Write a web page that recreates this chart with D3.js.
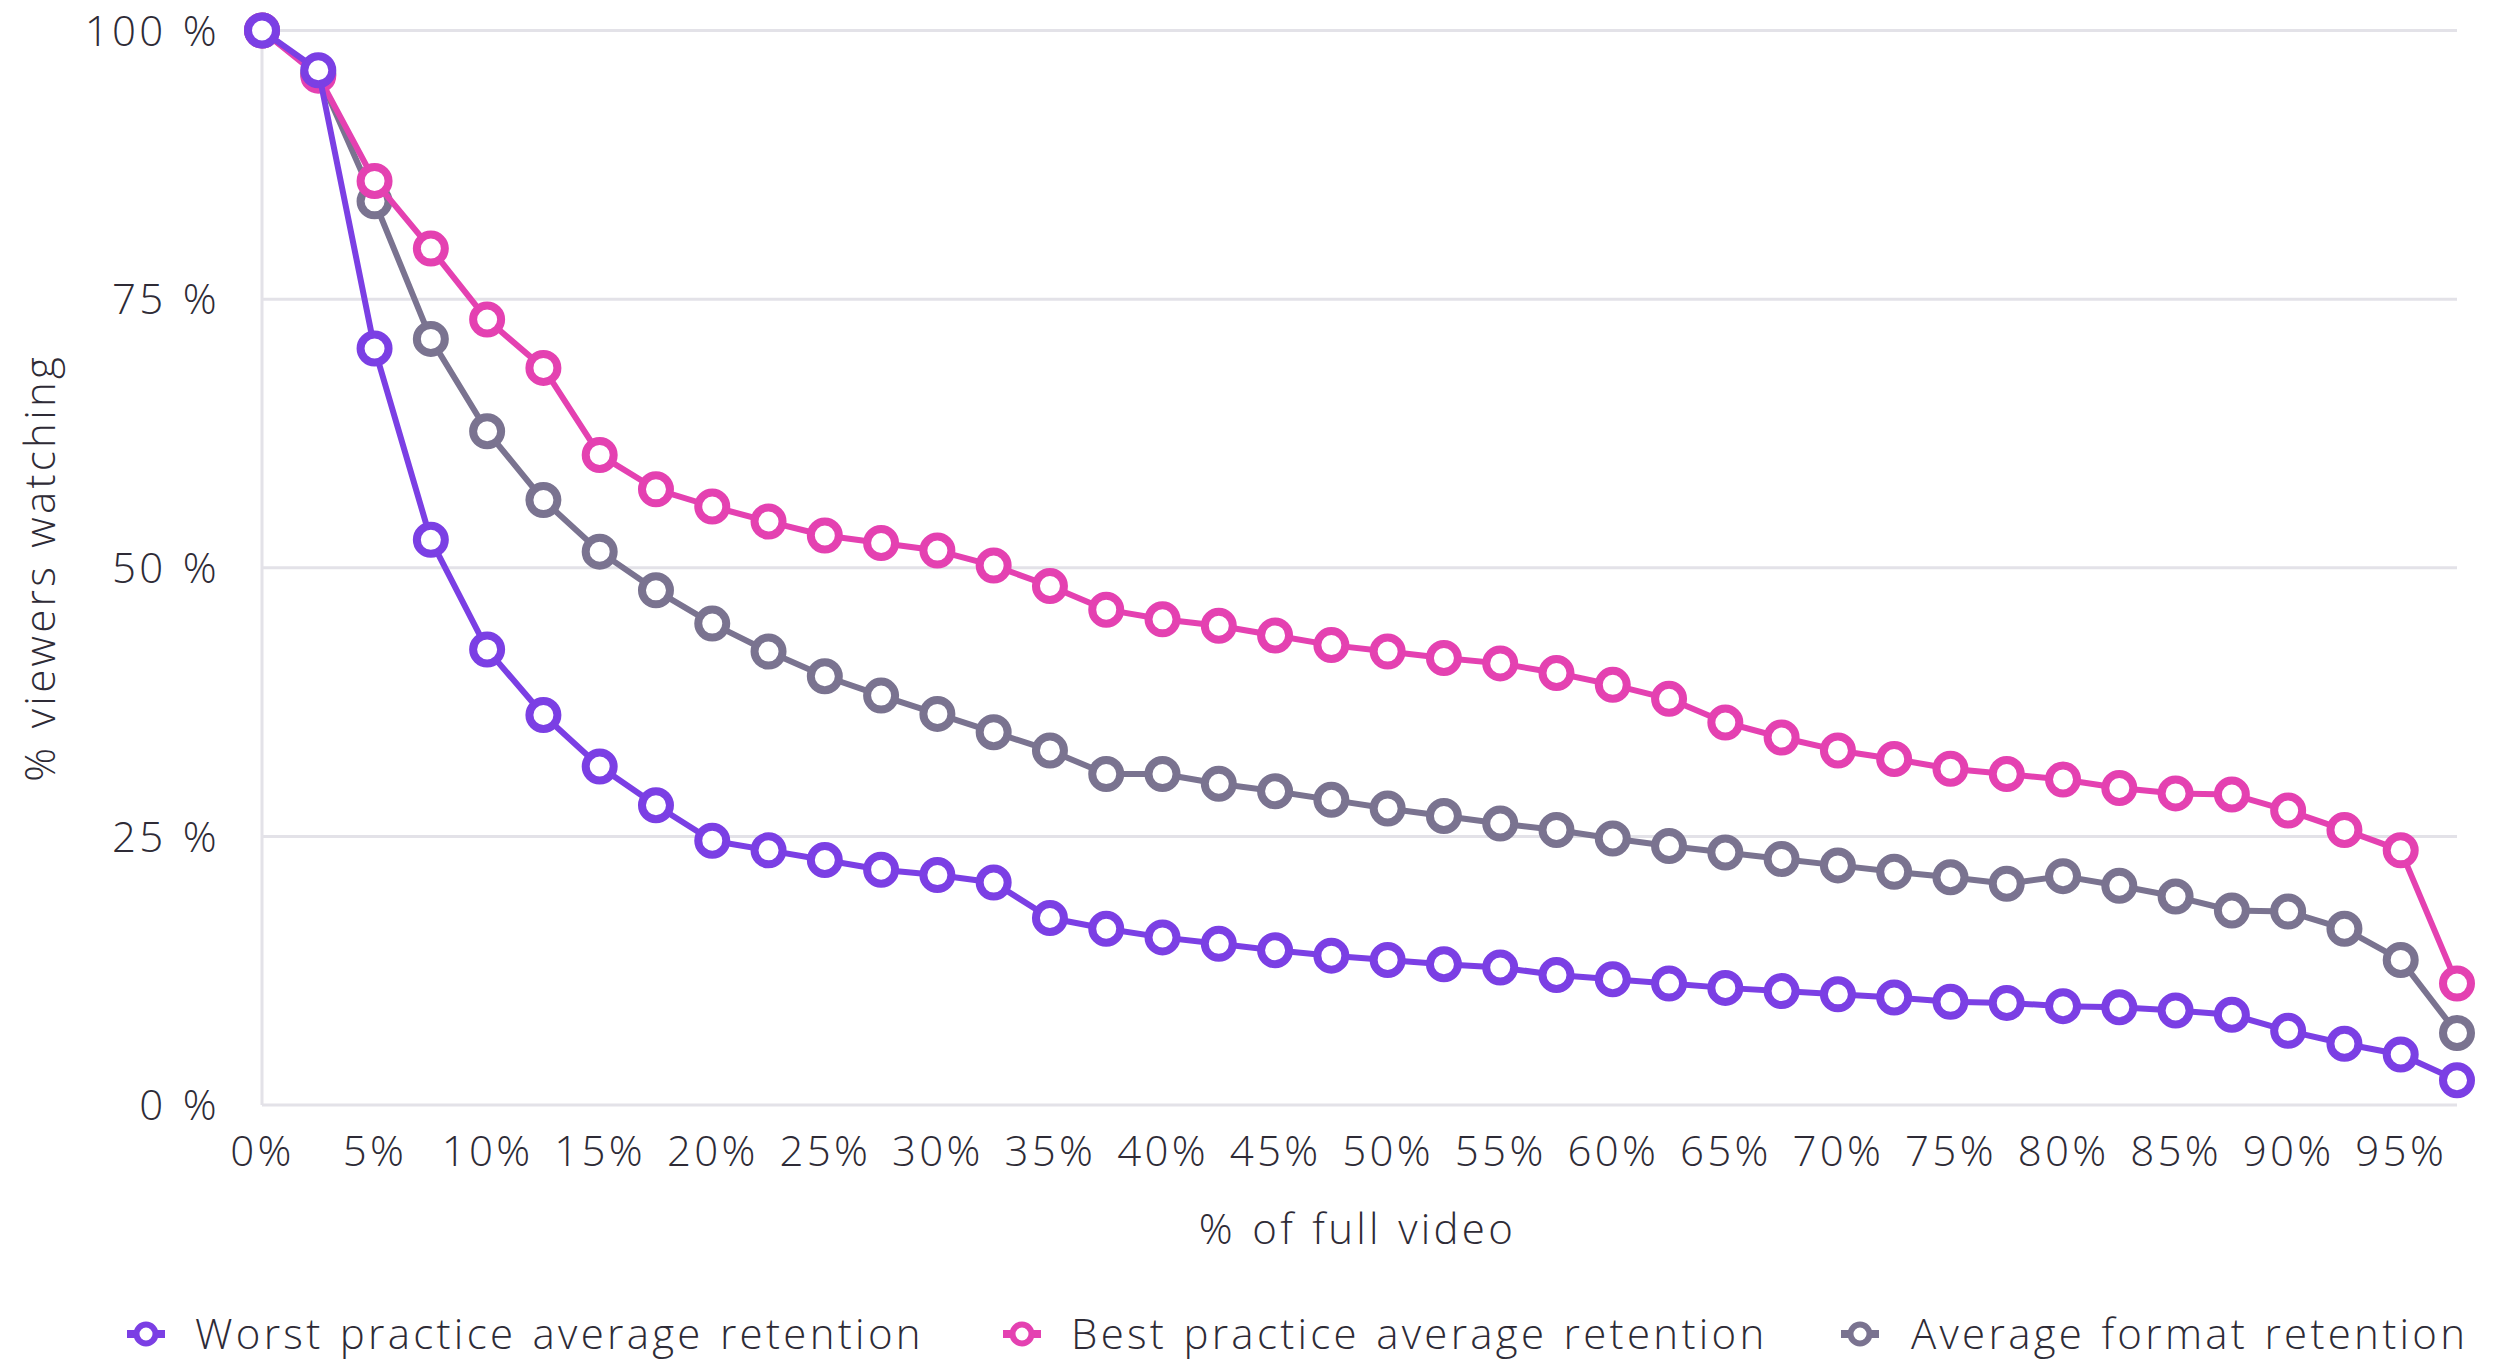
<!DOCTYPE html>
<html>
<head>
<meta charset="utf-8">
<script src="https://cdn.jsdelivr.net/npm/d3@7"></script>
<style>
  html, body { margin: 0; padding: 0; background: #ffffff; }
  svg { display: block; }
  text { font-family: "Open Sans", "Noto Sans", sans-serif; font-weight: 300; fill: #2e2b36; letter-spacing: 3.3px; word-spacing: 2px; }
</style>
</head>
<body>
<svg id="chart" width="2502" height="1362"></svg>
<script>
// Share of the video that has played (%)
const progress = [0, 2.5, 5, 7.5, 10, 12.5, 15, 17.5, 20, 22.5, 25, 27.5, 30, 32.5, 35, 37.5, 40, 42.5, 45, 47.5,
                  50, 52.5, 55, 57.5, 60, 62.5, 65, 67.5, 70, 72.5, 75, 77.5, 80, 82.5, 85, 87.5, 90, 92.5, 95, 97.5];

// % of viewers still watching at each point
const worstPractice = [100, 96.3, 70.4, 52.6, 42.4, 36.3, 31.5, 27.9, 24.6, 23.7, 22.8, 21.9, 21.4, 20.7, 17.4, 16.4, 15.6, 15.0, 14.4, 13.9,
                       13.5, 13.1, 12.8, 12.1, 11.7, 11.3, 10.9, 10.6, 10.3, 10.0, 9.6, 9.5, 9.2, 9.1, 8.8, 8.4, 6.9, 5.7, 4.7, 2.3];
const bestPractice = [100, 95.8, 86.0, 79.7, 73.1, 68.6, 60.5, 57.3, 55.7, 54.3, 53.0, 52.3, 51.6, 50.2, 48.3, 46.1, 45.2, 44.6, 43.7, 42.8,
                      42.2, 41.6, 41.1, 40.2, 39.1, 37.8, 35.6, 34.2, 33.0, 32.2, 31.3, 30.8, 30.3, 29.5, 29.0, 28.9, 27.4, 25.6, 23.7, 11.3];
const averageFormat = [100, 96.0, 84.1, 71.3, 62.7, 56.3, 51.5, 47.9, 44.8, 42.2, 39.9, 38.1, 36.4, 34.7, 33.0, 30.8, 30.8, 29.9, 29.2, 28.4,
                       27.6, 26.9, 26.2, 25.6, 24.8, 24.1, 23.5, 22.9, 22.3, 21.7, 21.2, 20.6, 21.3, 20.4, 19.4, 18.1, 18.0, 16.4, 13.5, 6.7];

const seriesNames = ["Worst practice average retention", "Best practice average retention", "Average format retention"];
const xTickValues = [0, 5, 10, 15, 20, 25, 30, 35, 40, 45, 50, 55, 60, 65, 70, 75, 80, 85, 90, 95];
const xTickLabels = ["0%", "5%", "10%", "15%", "20%", "25%", "30%", "35%", "40%", "45%",
                     "50%", "55%", "60%", "65%", "70%", "75%", "80%", "85%", "90%", "95%"];
const yTickValues = [0, 25, 50, 75, 100];
const yTickLabels = ["0 %", "25 %", "50 %", "75 %", "100 %"];

const colors = { worst: "#7b3fe4", best: "#e441b1", average: "#7a7390" };
const fontSize = 42;

const svg = d3.select("#chart");
const plot = { left: 262, right: 2457, top: 30.5, bottom: 1105 };

const x = d3.scaleLinear().domain([0, 97.5]).range([plot.left, plot.right]);
const y = d3.scaleLinear().domain([0, 100]).range([plot.bottom, plot.top]);

// horizontal gridlines
svg.append("g")
  .selectAll("line")
  .data(yTickValues)
  .join("line")
  .attr("x1", plot.left).attr("x2", plot.right)
  .attr("y1", d => y(d)).attr("y2", d => y(d))
  .attr("stroke", "#e3e2e8").attr("stroke-width", 3);

// left axis line
svg.append("line")
  .attr("x1", plot.left).attr("x2", plot.left)
  .attr("y1", plot.top).attr("y2", plot.bottom)
  .attr("stroke", "#e3e2e8").attr("stroke-width", 3);

// y axis labels
const yAxis = d3.axisLeft(y)
  .tickValues(yTickValues)
  .tickFormat((d, i) => yTickLabels[i])
  .tickSize(0)
  .tickPadding(42);
const gy = svg.append("g").attr("transform", `translate(${plot.left},0)`).call(yAxis);
gy.select(".domain").remove();
gy.selectAll("text").attr("font-size", fontSize).attr("dy", "0.35em").style("font-family", null).attr("fill", null);

// x axis labels
const xAxis = d3.axisBottom(x)
  .tickValues(xTickValues)
  .tickFormat((d, i) => xTickLabels[i])
  .tickSize(0)
  .tickPadding(31);
const gx = svg.append("g").attr("transform", `translate(0,${plot.bottom})`).call(xAxis);
gx.select(".domain").remove();
gx.selectAll("text").attr("font-size", fontSize).style("font-family", null).attr("fill", null);

// axis titles
svg.append("text")
  .attr("x", (plot.left + plot.right) / 2 - 2)
  .attr("y", 1229)
  .attr("dy", "0.35em")
  .attr("text-anchor", "middle")
  .attr("font-size", fontSize)
  .text("% of full video");

svg.append("text")
  .attr("transform", `translate(40,${(plot.top + plot.bottom) / 2}) rotate(-90)`)
  .attr("dy", "0.35em")
  .attr("text-anchor", "middle")
  .attr("font-size", fontSize)
  .text("% viewers watching");

// series, drawn back to front
const series = [
  { key: "average", values: averageFormat },
  { key: "best", values: bestPractice },
  { key: "worst", values: worstPractice }
];

const line = d3.line()
  .x((d, i) => x(progress[i]))
  .y(d => y(d));

series.forEach(s => {
  const g = svg.append("g");
  g.append("path")
    .datum(s.values)
    .attr("d", line)
    .attr("fill", "none")
    .attr("stroke", colors[s.key])
    .attr("stroke-width", 6)
    .attr("stroke-linejoin", "round");
  g.selectAll("circle")
    .data(s.values)
    .join("circle")
    .attr("cx", (d, i) => x(progress[i]))
    .attr("cy", d => y(d))
    .attr("r", 14)
    .attr("fill", "#ffffff")
    .attr("stroke", colors[s.key])
    .attr("stroke-width", 8);
});

// legend
const legendItems = [
  { name: seriesNames[0], color: colors.worst, mx: 146, tx: 195 },
  { name: seriesNames[1], color: colors.best, mx: 1022, tx: 1071 },
  { name: seriesNames[2], color: colors.average, mx: 1860, tx: 1911 }
];
const legendY = 1334;
const lg = svg.append("g");
legendItems.forEach(it => {
  lg.append("line")
    .attr("x1", it.mx - 19).attr("x2", it.mx + 19)
    .attr("y1", legendY).attr("y2", legendY)
    .attr("stroke", it.color).attr("stroke-width", 8);
  lg.append("circle")
    .attr("cx", it.mx).attr("cy", legendY).attr("r", 9.5)
    .attr("fill", "#ffffff").attr("stroke", it.color).attr("stroke-width", 6);
  lg.append("text")
    .attr("x", it.tx).attr("y", legendY)
    .attr("dy", "0.35em")
    .attr("font-size", fontSize)
    .text(it.name);
});
</script>
</body>
</html>
